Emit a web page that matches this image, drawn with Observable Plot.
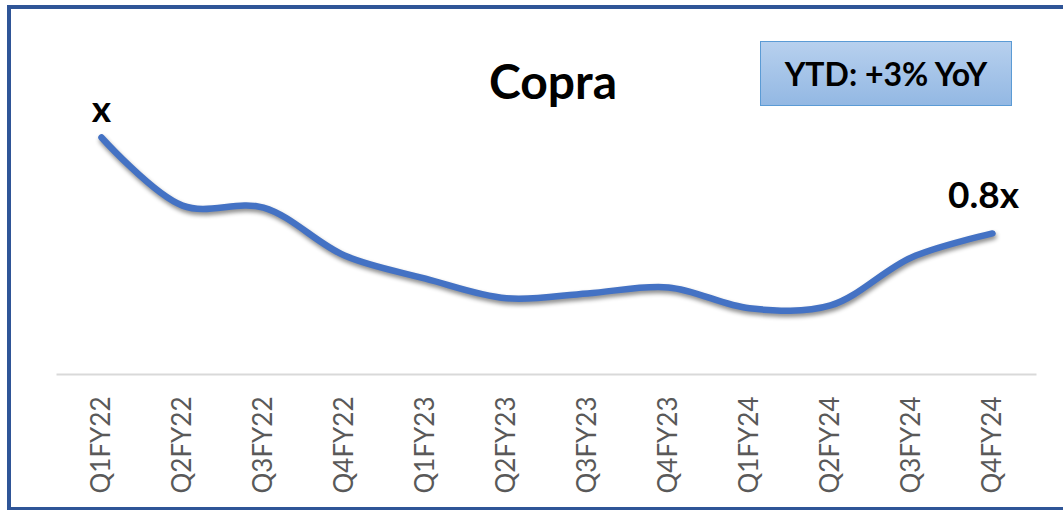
<!DOCTYPE html>
<html>
<head>
<meta charset="utf-8">
<script src="https://cdn.jsdelivr.net/npm/d3@7"></script>
<script src="https://cdn.jsdelivr.net/npm/@observablehq/plot@0.6"></script>
<style>
  html, body { margin: 0; padding: 0; background: #fff; }
  #wrap { position: relative; width: 1063px; height: 510px; overflow: hidden; font-family: Lato, "Open Sans", sans-serif; }
  #border { position: absolute; left: 7px; top: 5px; width: 1080px; height: 498px; border: 4px solid #2F5597; border-right: none; pointer-events: none; }
  #title { position: absolute; left: 453px; width: 200px; top: 51px; text-align: center; font-weight: 700; font-size: 48px; color: #000; line-height: 60px; }
  #ytd { position: absolute; left: 760px; top: 41px; width: 252px; height: 65px; box-sizing: border-box;
         border: 1.5px solid #5B9BD5; background: linear-gradient(#B7D0EE, #93B8E3);
         display: flex; align-items: center; justify-content: center; font-weight: 700; font-size: 32px; color: #000; }
  #chart { position: absolute; left: 0; top: 0; }
</style>
</head>
<body>
<div id="wrap">
  <div id="chart"></div>
  <div id="title">Copra</div>
  <div id="ytd">YTD: +3% YoY</div>
  <div id="border"></div>
</div>
<script>
const quarters = ["Q1FY22","Q2FY22","Q3FY22","Q4FY22","Q1FY23","Q2FY23","Q3FY23","Q4FY23","Q1FY24","Q2FY24","Q3FY24","Q4FY24"];
const values = [1.000, 0.858, 0.854, 0.754, 0.706, 0.665, 0.675, 0.6875, 0.644, 0.650, 0.750, 0.800];
const startLabel = "x";
const endLabel = "0.8x";
const yDomain = [0.506, 1];

const data = quarters.map((q, i) => ({q, v: values[i]}));
const first = [{q: quarters[0], v: values[0], label: startLabel}];
const last = [{q: quarters[quarters.length - 1], v: values[values.length - 1], label: endLabel}];

const chart = Plot.plot({
  width: 1063,
  height: 510,
  marginLeft: 57,
  marginRight: 28,
  marginTop: 137,
  marginBottom: 136,
  style: {fontFamily: "Lato, 'Open Sans', sans-serif", background: "transparent", overflow: "visible"},
  x: {type: "point", domain: quarters, padding: 0.5, label: null},
  y: {domain: yDomain, axis: null},
  marks: [
    Plot.frame({anchor: "bottom", stroke: "#D9D9D9", strokeWidth: 2}),
    Plot.axisX({tickSize: 0, tickRotate: -90, tickPadding: 22, fontSize: 26, fill: "#595959", label: null}),
    Plot.line(data, {x: "q", y: "v", stroke: "#4472C4", strokeWidth: 6.5, curve: "catmull-rom", strokeLinecap: "round"}),
    Plot.text(first, {x: "q", y: "v", text: "label", dy: -27, fontSize: 37, fontWeight: 700, fill: "#000"}),
    Plot.text(last, {x: "q", y: "v", text: "label", dy: -37, dx: -9, fontSize: 37, fontWeight: 700, fill: "#000"})
  ]
});
document.getElementById("chart").appendChild(chart);
d3.select(chart).selectAll('g[aria-label="line"]').style("filter", "drop-shadow(1px 3px 2px rgba(0,0,0,0.45))");
</script>
</body>
</html>
